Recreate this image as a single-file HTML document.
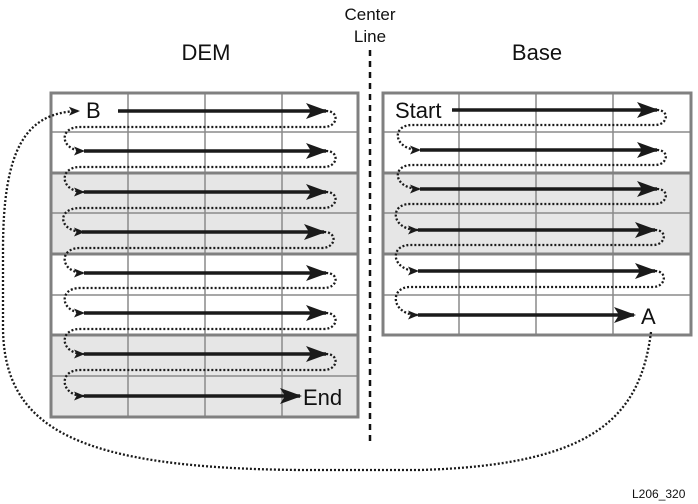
<!DOCTYPE html>
<html><head><style>
html,body{margin:0;padding:0;background:#fff;}
svg{display:block;font-family:"Liberation Sans",sans-serif;}
</style></head><body>
<svg width="698" height="504" viewBox="0 0 698 504" xmlns="http://www.w3.org/2000/svg">
<defs>
<marker id="ah" markerWidth="11" markerHeight="9" refX="10" refY="4.5" orient="auto" markerUnits="userSpaceOnUse" viewBox="0 0 11 9">
<path d="M0,0 L11,4.5 L0,9 L2.5,4.5 Z" fill="#1a1a1a"/></marker>
<marker id="big" markerWidth="22" markerHeight="16" refX="20" refY="8" orient="auto" markerUnits="userSpaceOnUse" viewBox="0 0 22 16">
<path d="M0,0 L22,8 L0,16 L5,8 Z" fill="#1a1a1a"/></marker>
</defs>
<text x="370" y="20" font-size="17" text-anchor="middle" fill="#111">Center</text>
<text x="370" y="42" font-size="17" text-anchor="middle" fill="#111">Line</text>
<text x="206" y="60" font-size="22" text-anchor="middle" fill="#111">DEM</text>
<text x="537" y="60" font-size="22" text-anchor="middle" fill="#111">Base</text>
<line x1="370" y1="50" x2="370" y2="442" stroke="#111" stroke-width="2.5" stroke-dasharray="6,5"/>
<rect x="51" y="173" width="307" height="81" fill="#e6e6e6"/>
<rect x="51" y="335" width="307" height="82" fill="#e6e6e6"/>
<g stroke="#8a8a8a" stroke-width="1.5">
<line x1="128" y1="93" x2="128" y2="417"/><line x1="205" y1="93" x2="205" y2="417"/><line x1="282" y1="93" x2="282" y2="417"/>
<line x1="51" y1="132" x2="358" y2="132"/><line x1="51" y1="213" x2="358" y2="213"/><line x1="51" y1="295" x2="358" y2="295"/><line x1="51" y1="376" x2="358" y2="376"/>
</g>
<g stroke="#808080" stroke-width="3" fill="none">
<rect x="51" y="93" width="307" height="324"/>
<line x1="51" y1="173" x2="358" y2="173"/><line x1="51" y1="254" x2="358" y2="254"/><line x1="51" y1="335" x2="358" y2="335"/>
</g>
<rect x="383" y="173" width="308" height="81" fill="#e6e6e6"/>
<g stroke="#8a8a8a" stroke-width="1.5">
<line x1="459" y1="93" x2="459" y2="335"/><line x1="536" y1="93" x2="536" y2="335"/><line x1="613" y1="93" x2="613" y2="335"/>
<line x1="383" y1="132" x2="691" y2="132"/><line x1="383" y1="213" x2="691" y2="213"/><line x1="383" y1="295" x2="691" y2="295"/>
</g>
<g stroke="#808080" stroke-width="3" fill="none">
<rect x="383" y="93" width="308" height="242"/>
<line x1="383" y1="173" x2="691" y2="173"/><line x1="383" y1="254" x2="691" y2="254"/>
</g>
<g stroke="#1a1a1a" stroke-width="3.5" marker-end="url(#big)">
<line x1="118" y1="111" x2="326" y2="111"/>
<line x1="84" y1="151" x2="326" y2="151"/>
<line x1="84" y1="192" x2="326" y2="192"/>
<line x1="82" y1="232" x2="324" y2="232"/>
<line x1="84" y1="273" x2="326" y2="273"/>
<line x1="84" y1="313" x2="326" y2="313"/>
<line x1="84" y1="354" x2="326" y2="354"/>
<line x1="84" y1="396" x2="300" y2="396"/>
</g>
<g stroke="#1a1a1a" stroke-width="2.3" stroke-dasharray="2,2" fill="none" marker-end="url(#ah)">
<path d="M326,111 C340,111 338,127 324,127 L80,127 C58,127 60,151 84,151"/>
<path d="M326,151 C340,151 338,167 324,167 L80,167 C58,167 60,192 84,192"/>
<path d="M326,192 C340,192 338,208 324,208 L80,208 C56,208 58,232 84,232"/>
<path d="M324,232 C338,232 336,248 322,248 L80,248 C58,248 60,273 84,273"/>
<path d="M326,273 C340,273 338,288 324,288 L80,288 C58,288 60,313 84,313"/>
<path d="M326,313 C340,313 338,329 324,329 L80,329 C58,329 60,354 84,354"/>
<path d="M326,354 C340,354 338,370 324,370 L80,370 C58,370 60,396 84,396"/>
</g>
<text x="86" y="118" font-size="22" fill="#111">B</text>
<text x="303" y="405" font-size="22" fill="#111">End</text>
<g stroke="#1a1a1a" stroke-width="3.5" marker-end="url(#big)">
<line x1="452" y1="110" x2="657" y2="110"/>
<line x1="420" y1="150" x2="657" y2="150"/>
<line x1="420" y1="189" x2="657" y2="189"/>
<line x1="418" y1="230" x2="655" y2="230"/>
<line x1="418" y1="271" x2="655" y2="271"/>
<line x1="418" y1="315" x2="634" y2="315"/>
</g>
<g stroke="#1a1a1a" stroke-width="2.3" stroke-dasharray="2,2" fill="none" marker-end="url(#ah)">
<path d="M657,110 C670,110 668,125 655,125 L412,125 C391,125 393,150 420,150"/>
<path d="M657,150 C670,150 668,165 655,165 L412,165 C391,165 393,189 420,189"/>
<path d="M657,189 C670,189 668,204 655,204 L410,204 C389,204 391,230 418,230"/>
<path d="M655,230 C668,230 666,245 653,245 L410,245 C389,245 391,271 418,271"/>
<path d="M655,271 C668,271 666,287 653,287 L410,287 C389,287 391,315 418,315"/>
</g>
<text x="395" y="118" font-size="22" fill="#111">Start</text>
<text x="641" y="324" font-size="22" fill="#111">A</text>
<path d="M651,332 C640,420 590,465 420,470 L300,470 C80,468 5,430 3,330 L3,250 C3,150 25,112 79,111" stroke="#1a1a1a" stroke-width="2.3" stroke-dasharray="2,2" fill="none" marker-end="url(#ah)"/>
<text x="632" y="498" font-size="12" fill="#111">L206_320</text>
</svg>
</body></html>
